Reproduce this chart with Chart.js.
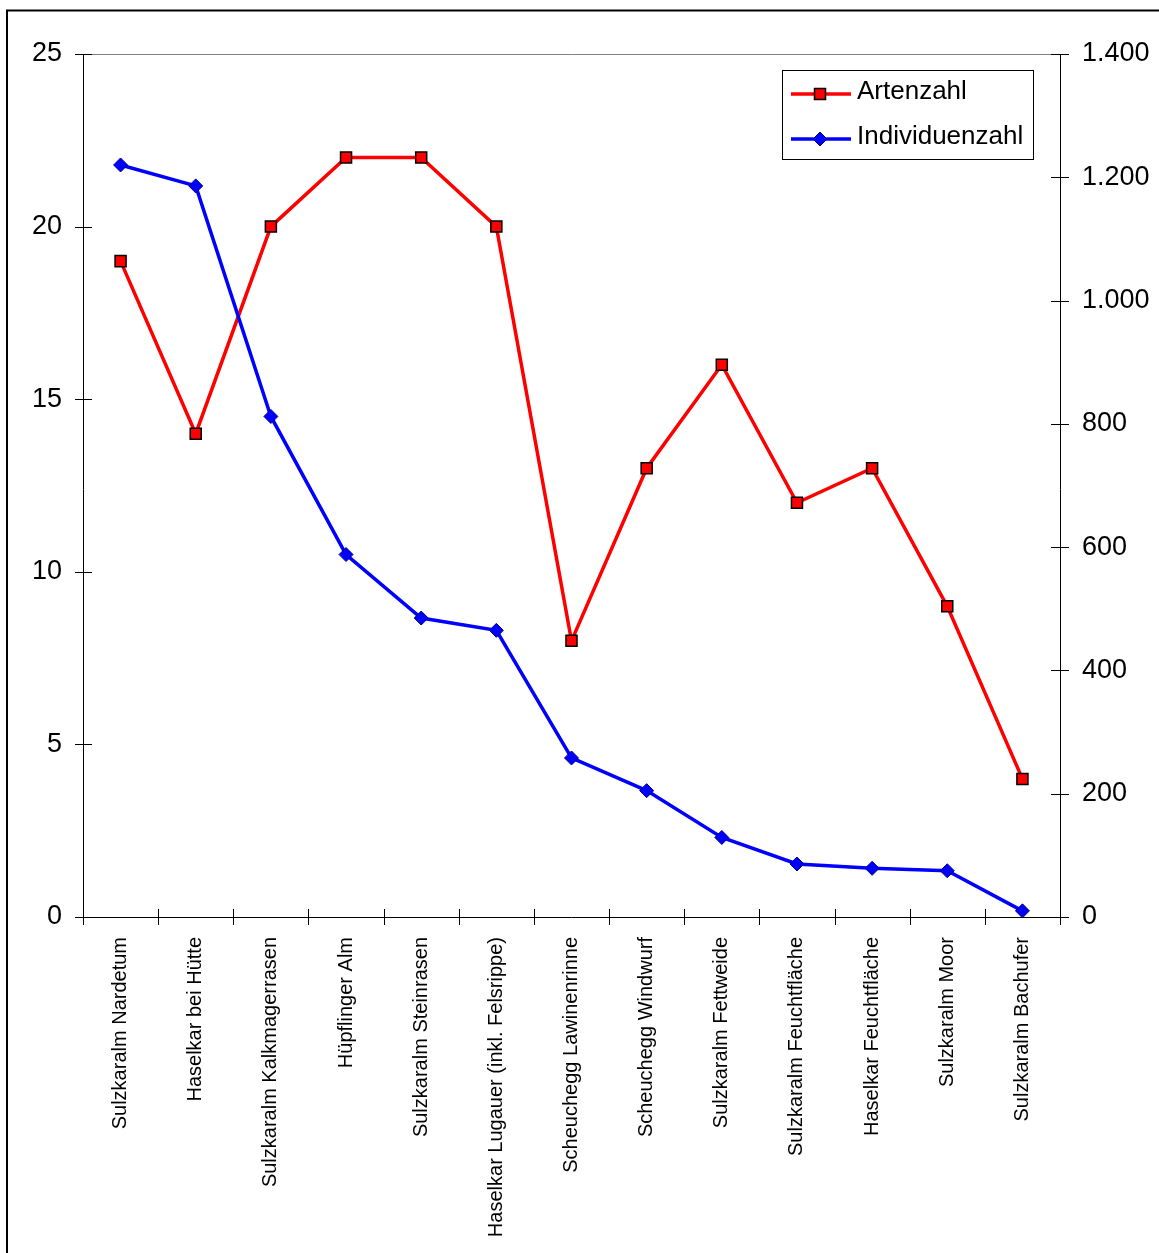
<!DOCTYPE html>
<html>
<head>
<meta charset="utf-8">
<script src="https://cdn.jsdelivr.net/npm/chart.js@4.4.0/dist/chart.umd.min.js"></script>
<style>
  html, body { margin: 0; padding: 0; background: #fff; }
  canvas { display: block; }
</style>
</head>
<body>
<canvas id="c" width="1159" height="1253"></canvas>
<script>
const categories = [
  'Sulzkaralm Nardetum',
  'Haselkar bei Hütte',
  'Sulzkaralm Kalkmagerrasen',
  'Hüpflinger Alm',
  'Sulzkaralm Steinrasen',
  'Haselkar Lugauer (inkl. Felsrippe)',
  'Scheuchegg Lawinenrinne',
  'Scheuchegg Windwurf',
  'Sulzkaralm Fettweide',
  'Sulzkaralm Feuchtfläche',
  'Haselkar Feuchtfläche',
  'Sulzkaralm Moor',
  'Sulzkaralm Bachufer'
];
const seriesNames = ['Artenzahl', 'Individuenzahl'];
const artenzahl = [19, 14, 20, 22, 22, 20, 8, 13, 16, 12, 13, 9, 4];
const individuenzahl = [1220, 1186, 812, 588, 485, 465, 258, 205, 129, 86, 79, 75, 10];
const leftTicks = [0, 5, 10, 15, 20, 25];
const rightTicks = [0, 200, 400, 600, 800, 1000, 1200, 1400];
const rightTickLabels = ['0', '200', '400', '600', '800', '1.000', '1.200', '1.400'];

const FONT = "'Liberation Sans', Arial, sans-serif";

const decorPlugin = {
  id: 'decor',
  beforeDraw(chart) {
    const ctx = chart.ctx;
    ctx.save();
    ctx.fillStyle = '#fff';
    ctx.fillRect(0, 0, chart.width, chart.height);
    ctx.restore();
  },
  beforeDatasetsDraw(chart) {
    const ctx = chart.ctx;
    const a = chart.chartArea;
    const xs = chart.scales.x, yl = chart.scales.y, yr = chart.scales.y1;
    ctx.save();
    // plot area top border
    ctx.strokeStyle = '#808080';
    ctx.lineWidth = 1;
    ctx.beginPath();
    ctx.moveTo(a.left, Math.round(a.top) + 0.5);
    ctx.lineTo(a.right, Math.round(a.top) + 0.5);
    ctx.stroke();
    // axes
    ctx.strokeStyle = '#000';
    ctx.lineWidth = 1;
    ctx.beginPath();
    ctx.moveTo(Math.round(a.left) + 0.5, a.top);
    ctx.lineTo(Math.round(a.left) + 0.5, a.bottom + 8);
    ctx.moveTo(Math.round(a.right) + 0.5, a.top);
    ctx.lineTo(Math.round(a.right) + 0.5, a.bottom + 8);
    ctx.moveTo(a.left - 8, Math.round(a.bottom) + 0.5);
    ctx.lineTo(a.right + 8, Math.round(a.bottom) + 0.5);
    // left ticks
    leftTicks.forEach(v => {
      const y = Math.round(yl.getPixelForValue(v)) + 0.5;
      ctx.moveTo(a.left - 8, y); ctx.lineTo(a.left + 9, y);
    });
    rightTicks.forEach(v => {
      const y = Math.round(yr.getPixelForValue(v)) + 0.5;
      ctx.moveTo(a.right - 9, y); ctx.lineTo(a.right + 9, y);
    });
    const w = xs.getPixelForValue(1) - xs.getPixelForValue(0);
    for (let i = 0; i <= categories.length; i++) {
      const x = Math.round(xs.getPixelForValue(0) + (i - 0.5) * w) + 0.5;
      ctx.moveTo(x, a.bottom - 8); ctx.lineTo(x, a.bottom + 8);
    }
    ctx.stroke();
    ctx.restore();
  },
  afterDraw(chart) {
    const ctx = chart.ctx;
    const a = chart.chartArea;
    ctx.save();
    // outer frame
    ctx.strokeStyle = '#000';
    ctx.lineWidth = 2;
    ctx.beginPath();
    ctx.moveTo(7, chart.height + 5);
    ctx.lineTo(7, 10.5);
    ctx.lineTo(chart.width + 5, 10.5);
    ctx.stroke();

    // legend
    const bx = a.right - 278, by = a.top + 16, bw = 251, bh = 89;
    ctx.fillStyle = '#fff';
    ctx.fillRect(bx, by, bw, bh);
    ctx.strokeStyle = '#000';
    ctx.lineWidth = 1;
    ctx.strokeRect(bx + 0.5, by + 0.5, bw, bh);
    const ds = chart.data.datasets;
    const rows = [by + 24, by + 69];
    ds.forEach((d, i) => {
      const y = rows[i];
      ctx.strokeStyle = d.borderColor;
      ctx.lineWidth = 3.5;
      ctx.beginPath();
      ctx.moveTo(bx + 9, y);
      ctx.lineTo(bx + 69, y);
      ctx.stroke();
      const mx = bx + 38;
      ctx.fillStyle = d.pointBackgroundColor;
      ctx.strokeStyle = d.pointBorderColor;
      ctx.lineWidth = d.pointBorderWidth;
      ctx.beginPath();
      if (d.pointStyle === 'rect') {
        ctx.rect(mx - 5.5, y - 5.5, 11, 11);
      } else {
        const r = d.pointRadius;
        ctx.moveTo(mx, y - r); ctx.lineTo(mx + r, y); ctx.lineTo(mx, y + r); ctx.lineTo(mx - r, y); ctx.closePath();
      }
      ctx.fill();
      ctx.stroke();
      ctx.fillStyle = '#000';
      ctx.font = '26px ' + FONT;
      ctx.textBaseline = 'middle';
      ctx.textAlign = 'left';
      ctx.fillText(d.label, bx + 75, y - 2);
    });
    ctx.restore();
  }
};

new Chart(document.getElementById('c'), {
  type: 'line',
  data: {
    labels: categories,
    datasets: [
      {
        label: seriesNames[0],
        data: artenzahl,
        yAxisID: 'y',
        borderColor: '#FF0000',
        borderWidth: 3.5,
        pointStyle: 'rect',
        pointRadius: 7.8,
        pointBackgroundColor: '#FF0000',
        pointBorderColor: '#000000',
        pointBorderWidth: 1.5,
        tension: 0,
        fill: false,
        order: 1
      },
      {
        label: seriesNames[1],
        data: individuenzahl,
        yAxisID: 'y1',
        borderColor: '#0000FF',
        borderWidth: 3.5,
        pointStyle: 'rectRot',
        pointRadius: 7,
        pointBackgroundColor: '#0000FF',
        pointBorderColor: '#000080',
        pointBorderWidth: 1,
        tension: 0,
        fill: false,
        order: 0
      }
    ]
  },
  options: {
    responsive: false,
    devicePixelRatio: 1,
    animation: false,
    layout: { padding: { top: 54, left: 0, right: 0, bottom: 0 } },
    plugins: { legend: { display: false }, tooltip: { enabled: false } },
    scales: {
      x: {
        type: 'category',
        offset: true,
        grid: { display: false, drawTicks: false },
        border: { display: false },
        ticks: {
          autoSkip: false,
          minRotation: 90,
          maxRotation: 90,
          padding: 20,
          color: '#000',
          font: { family: FONT, size: 20 }
        },
        afterFit(s) { s.height = 336; }
      },
      y: {
        position: 'left',
        min: 0,
        max: 25,
        grid: { display: false, drawTicks: false },
        border: { display: false },
        afterBuildTicks(s) { s.ticks = leftTicks.map(v => ({ value: v })); },
        ticks: {
          padding: 21,
          color: '#000',
          font: { family: FONT, size: 27 },
          callback: v => String(v)
        },
        afterFit(s) { s.width = 83; }
      },
      y1: {
        position: 'right',
        min: 0,
        max: 1400,
        grid: { display: false, drawTicks: false },
        border: { display: false },
        afterBuildTicks(s) { s.ticks = rightTicks.map(v => ({ value: v })); },
        ticks: {
          padding: 22,
          color: '#000',
          font: { family: FONT, size: 27 },
          callback: (v, i) => rightTickLabels[i]
        },
        afterFit(s) { s.width = 99; }
      }
    }
  },
  plugins: [decorPlugin]
});
</script>
</body>
</html>
